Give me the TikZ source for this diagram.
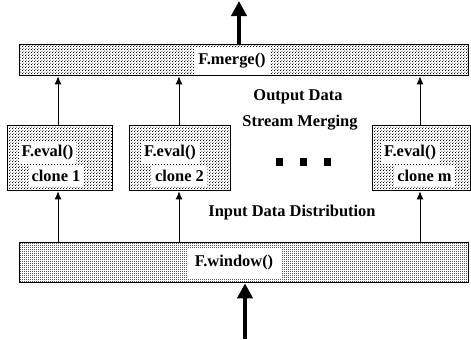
\documentclass[tikz,border=0pt]{standalone}
\usepackage{fontspec}
\setmainfont{Liberation Serif}
\usetikzlibrary{arrows.meta,patterns.meta}
\tikzdeclarepattern{
  name=sparsedots,
  type=uncolored,
  bounding box={(0bp,0bp) and (3.2bp,3.2bp)},
  tile size={(3.2bp,3.2bp)},
  code={\fill (0bp,0bp) rectangle (1bp,1bp); \fill (1.6bp,1.6bp) rectangle (2.6bp,2.6bp);}
}
\tikzdeclarepattern{
  name=densedots,
  type=uncolored,
  bounding box={(0bp,0bp) and (2bp,2bp)},
  tile size={(2bp,2bp)},
  code={\fill (0bp,0bp) rectangle (1.1bp,1.1bp);}
}
\tikzset{
  lbl/.style={font=\fontsize{16.5}{18}\selectfont\bfseries, inner sep=0pt},
  wlbl/.style={lbl, fill=white, inner xsep=3bp, inner ysep=4bp},
  bigbox/.style={draw, line width=1.3bp, pattern=sparsedots, pattern color=black},
  winbox/.style={draw, line width=1.3bp, pattern=densedots, pattern color=black},
  clonebox/.style={draw, line width=1.3bp, pattern=sparsedots, pattern color=black},
  thin/.style={line width=0.9bp, -{Latex[length=8bp,width=7bp]}},
  thick/.style={line width=4bp, -{Triangle[length=15bp,width=15bp]}},
  dotsq/.style={fill=black, minimum width=7bp, minimum height=8bp, inner sep=0pt}
}
\begin{document}
\begin{tikzpicture}[x=1bp,y=-1bp]
\useasboundingbox (0,0) rectangle (471,339);
% boxes
\node[bigbox, minimum width=449bp, minimum height=31bp, inner sep=0pt, anchor=north west] (merge) at (19,44) {};
\node[winbox, minimum width=449bp, minimum height=40bp, inner sep=0pt, anchor=north west] (window) at (19,242) {};
\node[clonebox, minimum width=105bp, minimum height=65bp, inner sep=0pt, anchor=north west] (c1) at (7,125) {};
\node[clonebox, minimum width=101bp, minimum height=65bp, inner sep=0pt, anchor=north west] (c2) at (129,125) {};
\node[clonebox, minimum width=98bp, minimum height=65bp, inner sep=0pt, anchor=north west] (cm) at (372,125) {};
% labels in boxes
\node[wlbl, inner xsep=4bp, inner ysep=6bp] (mlbl) at (232,61) {F.merge()};
\node[wlbl, inner xsep=8bp, inner ysep=8bp] (wlbl) at (234,263) {F.window()};
\node[wlbl] (e1) at (47.5,153) {F.eval()};
\node[wlbl] (k1) at (56,176) {clone 1};
\node[wlbl] (e2) at (170,153) {F.eval()};
\node[wlbl] (k2) at (179.5,176) {clone 2};
\node[wlbl] (em) at (410,153) {F.eval()};
\node[wlbl] (km) at (424.5,176) {clone m};
% free labels
\node[lbl] (od) at (298,97) {Output Data};
\node[lbl] (sm) at (300,123) {Stream Merging};
\node[lbl] (idd) at (292,213) {Input Data Distribution};
% dots
\node[dotsq] (d1) at (279,162) {};
\node[dotsq] (d2) at (303,162) {};
\node[dotsq] (d3) at (327,162) {};
% coordinates for x positions
\coordinate (x1) at (58,0);
\coordinate (x2) at (179,0);
\coordinate (xm) at (420,0);
% arrows window -> clones
\draw[thin] (x1 |- window.north) -- (x1 |- c1.south);
\draw[thin] (x2 |- window.north) -- (x2 |- c2.south);
\draw[thin] (xm |- window.north) -- (xm |- cm.south);
% arrows clones -> merge
\draw[thin] (x1 |- c1.north) -- (x1 |- merge.south);
\draw[thin] (x2 |- c2.north) -- (x2 |- merge.south);
\draw[thin] (xm |- cm.north) -- (xm |- merge.south);
% thick arrows
\coordinate (outtip) at (239,1);
\coordinate (inbase) at (245,339);
\draw[thick] (outtip |- merge.north) -- (outtip);
\draw[thick] (inbase) -- (inbase |- window.south);
\end{tikzpicture}
\end{document}
